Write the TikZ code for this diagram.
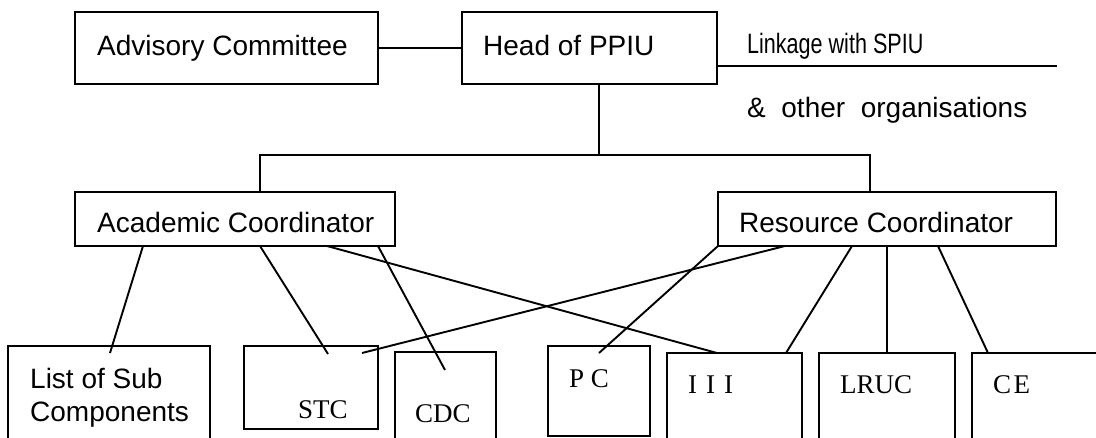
\documentclass[tikz,border=0pt]{standalone}
\usepackage{fontspec}
\usepackage{graphicx}
\setmainfont{Liberation Serif}
\newfontfamily\arialfont{Liberation Sans}
\begin{document}
\begin{tikzpicture}[x=1pt,y=-1pt,
  box/.style={draw, line width=1.9pt, rectangle, inner sep=0pt, outer sep=0pt, anchor=north west},
  wire/.style={line width=1.9pt},
  sans/.style={font=\arialfont\fontsize{28}{32}\selectfont, anchor=base west, inner sep=0pt},
  serif/.style={font=\fontsize{27}{31}\selectfont, anchor=base west, inner sep=0pt}]
\useasboundingbox (0,0) rectangle (1096,438);
\fill[white] (0,0) rectangle (1096,438);
\clip (0,0) rectangle (1096,438);

% top row
\node[box, minimum width=303pt, minimum height=72pt] (adv) at (75,12) {};
\node[box, minimum width=255pt, minimum height=72pt] (head) at (462,12) {};
\node[sans] (advt) at (97,56) {Advisory Committee};
\node[sans] (headt) at (483,56) {Head of PPIU};
\node[sans] (linkt) at (747,54) {\scalebox{0.77}[1]{Linkage with SPIU}};
\node[sans] (orgt) at (747,118) {\&~~other~~organisations};
\coordinate (linkend) at (1057,66);

% coordinators
\node[box, minimum width=320pt, minimum height=54pt] (acad) at (75,192) {};
\node[box, minimum width=338pt, minimum height=54pt] (res) at (718,192) {};
\node[sans] (acadt) at (97,233) {Academic Coordinator};
\node[sans] (rest) at (739,233) {Resource Coordinator};

% sub components
\node[box, minimum width=202pt, minimum height=110pt] (list) at (8,346) {};
\node[box, minimum width=134pt, minimum height=83pt] (stc) at (244,346) {};
\node[box, minimum width=101pt, minimum height=100pt] (cdc) at (395,352) {};
\node[box, minimum width=102pt, minimum height=90pt] (pc) at (548,346) {};
\node[box, minimum width=135pt, minimum height=100pt] (iii) at (667,353) {};
\node[box, minimum width=136pt, minimum height=100pt] (lruc) at (819,353) {};
\node[box, minimum width=150pt, minimum height=100pt] (ce) at (972,353) {};

\node[sans] (listt1) at (30,389) {List of Sub};
\node[sans] (listt2) at (30,422) {Components};
\node[serif] (stct) at (298,419) {STC};
\node[serif] (cdct) at (415,423) {CDC};
\node[serif] (pct) at (569,388) {P C};
\node[serif] (iiit) at (688,394) {\spaceskip=9pt I I I};
\node[serif] (lruct) at (840,394) {LRUC};
\node[serif] (cet) at (993,394) {C\kern2.5pt E};

% links at the top
\draw[wire] (adv.east) -- (head.west);
\draw[wire] ([yshift=-18pt]head.east) -- (linkend);
\draw[wire] ([xshift=137pt]head.south west) -- ++(0,71);
\draw[wire] ([xshift=185pt]acad.north west) -- ++(0,-37) -| ([xshift=152pt]res.north west);

% academic coordinator links
\draw[wire] ([xshift=68pt]acad.south west) -- ([xshift=102pt,yshift=-7pt]list.north west);
\draw[wire] ([xshift=185pt]acad.south west) -- ([xshift=84pt,yshift=-8pt]stc.north west);
\draw[wire] ([xshift=303pt]acad.south west) -- ([xshift=50pt,yshift=-18pt]cdc.north west);
\draw[wire] ([xshift=252pt]acad.south west) -- ([xshift=50pt]iii.north west);

% resource coordinator links
\draw[wire] (res.south west) -- ([xshift=51pt,yshift=-7pt]pc.north west);
\draw[wire] ([xshift=67pt]res.south west) -- ([xshift=118pt,yshift=-7pt]stc.north west);
\draw[wire] ([xshift=134pt]res.south west) -- ([xshift=119pt]iii.north west);
\draw[wire] ([xshift=169pt]res.south west) -- ([xshift=68pt]lruc.north west);
\draw[wire] ([xshift=220pt]res.south west) -- ([xshift=16pt]ce.north west);
\end{tikzpicture}
\end{document}
